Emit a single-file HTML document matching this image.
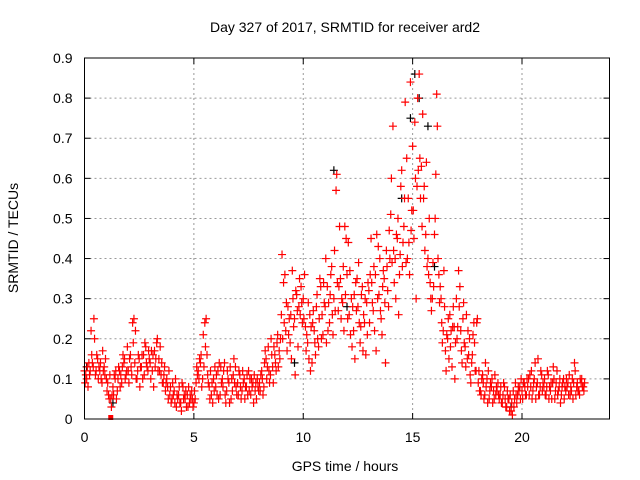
<!DOCTYPE html>
<html><head><meta charset="utf-8"><style>
body{margin:0;background:#fff;}
svg{display:block;font-family:"Liberation Sans",Arial,sans-serif;}
</style></head><body>
<svg id="chart" width="640" height="480" viewBox="0 0 640 480">
<rect x="0" y="0" width="640" height="480" fill="#fff"/>
<text x="345" y="32" font-size="14" text-anchor="middle" fill="#000">Day 327 of 2017, SRMTID for receiver ard2</text>
<text transform="translate(18,238) rotate(-90)" font-size="14" text-anchor="middle" fill="#000">SRMTID / TECUs</text>
<text x="345" y="471" font-size="14" text-anchor="middle" fill="#000">GPS time / hours</text>
<g id="grid"></g><g id="ticks"></g><g id="marks"></g>
<rect x="84.5" y="58" width="525" height="361" fill="none" stroke="#000" stroke-width="1"/>
</svg>
<script>
const xTicks=[0,5,10,15,20];
const yTicks=[0,0.1,0.2,0.3,0.4,0.5,0.6,0.7,0.8,0.9];
const yTickLabels=["0","0.1","0.2","0.3","0.4","0.5","0.6","0.7","0.8","0.9"];
const hours=[0,0.1,0.2,0.3,0.4,0.5,0.6,0.7,0.8,0.9,1,1.1,1.2,1.3,1.4,1.5,1.6,1.7,1.8,1.9,2,2.1,2.2,2.3,2.4,2.5,2.6,2.7,2.8,2.9,3,3.1,3.2,3.3,3.4,3.5,3.6,3.7,3.8,3.9,4,4.1,4.2,4.3,4.4,4.5,4.6,4.7,4.8,4.9,5,5.1,5.2,5.3,5.4,5.5,5.6,5.7,5.8,5.9,6,6.1,6.2,6.3,6.4,6.5,6.6,6.7,6.8,6.9,7,7.1,7.2,7.3,7.4,7.5,7.6,7.7,7.8,7.9,8,8.1,8.2,8.3,8.4,8.5,8.6,8.7,8.8,8.9,9,9.1,9.2,9.3,9.4,9.5,9.6,9.7,9.8,9.9,10,10.1,10.2,10.3,10.4,10.5,10.6,10.7,10.8,10.9,11,11.1,11.2,11.3,11.4,11.5,11.6,11.7,11.8,11.9,12,12.1,12.2,12.3,12.4,12.5,12.6,12.7,12.8,12.9,13,13.1,13.2,13.3,13.4,13.5,13.6,13.7,13.8,13.9,14,14.1,14.2,14.3,14.4,14.5,14.6,14.7,14.8,14.9,15,15.1,15.2,15.3,15.4,15.5,15.6,15.7,15.8,15.9,16,16.1,16.2,16.3,16.4,16.5,16.6,16.7,16.8,16.9,17,17.1,17.2,17.3,17.4,17.5,17.6,17.7,17.8,17.9,18,18.1,18.2,18.3,18.4,18.5,18.6,18.7,18.8,18.9,19,19.1,19.2,19.3,19.4,19.5,19.6,19.7,19.8,19.9,20,20.1,20.2,20.3,20.4,20.5,20.6,20.7,20.8,20.9,21,21.1,21.2,21.3,21.4,21.5,21.6,21.7,21.8,21.9,22,22.1,22.2,22.3,22.4,22.5,22.6,22.7,22.8];
const srmtidA=[.12,.10,.14,.22,.13,.11,.15,.12,.09,.13, .10,.06,.05,.08,.10,.07,.12,.09,.14,.11, .12,.16,.24,.14,.10,.15,.13,.16,.18,.12, .14,.12,.17,.19,.15,.11,.09,.07,.08,.06, .05,.07,.03,.06,.04,.08,.05,.06,.04,.07, .04,.09,.12,.14,.10,.24,.16,.08,.06,.10, .08,.12,.06,.10,.14,.07,.09,.05,.11,.13, .09,.11,.07,.10,.08,.12,.06,.09,.07,.10, .09,.12,.08,.15,.18,.11,.13,.16,.19,.17, .26,.34,.22,.28,.19,.37,.25,.31,.28,.33, .30,.23,.19,.26,.14,.22,.28,.18,.33,.21, .28,.33,.24,.38,.30,.57,.27,.35,.29,.48, .36,.26,.30,.22,.34,.28,.19,.33,.24,.29, .32,.45,.27,.36,.30,.40,.21,.35,.42,.28, .51,.73,.40,.45,.36,.62,.48,.39,.55,.84, .68,.74,.58,.86,.63,.55,.46,.40,.34,.30, .46,.81,.36,.30,.22,.17,.20,.26,.13,.23, .30,.37,.22,.25,.18,.15,.20,.14,.24,.12, .09,.07,.11,.06,.10,.05,.08,.07,.06,.09, .06,.04,.08,.03,.05,.02,.07,.09,.06,.08, .07,.09,.06,.10,.08,.07,.14,.09,.06,.11, .08,.06,.11,.07,.09,.05,.12,.08,.06,.10, .07,.09,.06,.10,.14,.08,.07,.09,.08];
const srmtidB=[.09,.13,.11,.16,.25,.12,.10,.14,.17,.11, .07,.05,.03,.06,.12,.10,.08,.13,.15,.12, .09,.13,.19,.22,.12,.08,.16,.11,.14,.17, .10,.16,.13,.20,.12,.14,.11,.09,.05,.08, .09,.04,.06,.08,.02,.05,.07,.03,.06,.05, .07,.13,.10,.16,.21,.18,.11,.05,.09,.07, .11,.05,.13,.08,.06,.12,.04,.10,.15,.08, .06,.08,.12,.05,.11,.07,.10,.04,.09,.08, .07,.10,.14,.10,.12,.20,.09,.14,.21,.15, .41,.24,.29,.21,.26,.30,.11,.27,.35,.29, .25,.17,.29,.12,.24,.19,.31,.25,.20,.34, .40,.22,.31,.26,.42,.61,.33,.25,.38,.31, .25,.37,.18,.31,.27,.39,.23,.17,.30,.21, .24,.34,.38,.17,.43,.27,.33,.29,.38,.47, .60,.42,.30,.50,.41,.38,.55,.65,.44,.47, .52,.60,.80,.65,.48,.58,.64,.36,.30,.39, .50,.73,.29,.24,.37,.12,.25,.18,.23,.10, .20,.28,.17,.29,.13,.22,.11,.16,.19,.24, .12,.06,.09,.14,.04,.07,.10,.05,.08,.06, .08,.06,.05,.07,.02,.04,.03,.06,.08,.05, .05,.08,.10,.06,.12,.09,.05,.15,.08,.07, .10,.08,.05,.09,.13,.07,.06,.10,.08,.05, .10,.06,.08,.05,.12,.09,.06,.10,.07];
const srmtidC=[.11,.08,.12,.14,.20,.16,.13,.10,.12,.15, .09,.11,.06,.11,.05,.13,.11,.16,.10,.18, .15,.11,.25,.10,.16,.13,.10,.19,.13,.15, .17,.08,.15,.12,.18,.09,.13,.10,.12,.04, .06,.10,.05,.04,.09,.06,.03,.08,.05,.03, .05,.11,.15,.08,.13,.25,.09,.12,.04,.13, .06,.14,.09,.12,.04,.10,.13,.07,.09,.06, .12,.05,.09,.08,.06,.10,.08,.11,.05,.07, .11,.06,.17,.13,.09,.16,.18,.12,.13,.20, .20,.36,.17,.25,.15,.23,.32,.18,.26,.24, .36,.21,.15,.23,.27,.16,.20,.35,.26,.29, .19,.29,.36,.21,.27,.34,.48,.30,.22,.45, .44,.21,.28,.15,.35,.24,.31,.26,.16,.34, .36,.29,.22,.46,.31,.25,.37,.14,.32,.40, .39,.34,.46,.26,.58,.44,.79,.40,.36,.52, .45,.30,.62,.55,.76,.42,.38,.50,.27,.33, .61,.40,.33,.19,.28,.21,.15,.22,.28,.19, .23,.33,.14,.19,.26,.16,.09,.21,.12,.25, .07,.10,.05,.08,.12,.09,.04,.11,.07,.05, .04,.09,.03,.05,.06,.01,.05,.04,.07,.10, .09,.06,.08,.11,.05,.10,.08,.06,.12,.09, .06,.12,.08,.05,.10,.09,.07,.04,.09,.08, .08,.11,.07,.09,.06,.07,.10,.08,.09];
const blackHours=[0.1,1.3,9.6,11.4,12.0,14.5,14.9,15.1,15.3,15.7,16.0,19.5];
const blackValues=[0.13,0.04,0.14,0.62,0.28,0.55,0.75,0.86,0.80,0.73,0.38,0.03];
const squareHours=[1.2];
const squareValues=[0.0];

const L=84.5,R=609.5,T=58,B=419,XMAX=24,YMAX=0.9;
const xs=v=>L+v/XMAX*(R-L);
const ys=v=>B-v/YMAX*(B-T);
const NS="http://www.w3.org/2000/svg";
const grid=document.getElementById('grid'),ticks=document.getElementById('ticks'),marks=document.getElementById('marks');
function mk(tag,attrs,parent){const e=document.createElementNS(NS,tag);for(const k in attrs)e.setAttribute(k,attrs[k]);parent.appendChild(e);return e;}
xTicks.forEach(t=>{
  const x=xs(t);
  if(t>0){const g=mk('line',{x1:x,x2:x,y1:T,y2:B,stroke:'#999','stroke-dasharray':'2,3','stroke-width':1},grid);
  
  }
  mk('line',{x1:x,x2:x,y1:B,y2:B-6,stroke:'#000'},ticks);
  mk('line',{x1:x,x2:x,y1:T,y2:T+6,stroke:'#000'},ticks);
  const lb=mk('text',{x:x,y:B+23,'font-size':14,'text-anchor':'middle',fill:'#000'},ticks);
  lb.textContent=t;
  
  
});
yTicks.forEach((t,i)=>{
  const y=ys(t);
  if(t>0&&t<0.9){const g=mk('line',{x1:L,x2:R,y1:y,y2:y,stroke:'#999','stroke-dasharray':'2,3','stroke-width':1},grid);
  
  }
  mk('line',{x1:L,x2:L+6,y1:y,y2:y,stroke:'#000'},ticks);
  mk('line',{x1:R,x2:R-6,y1:y,y2:y,stroke:'#000'},ticks);
  const lb=mk('text',{x:L-12,y:y+5,'font-size':14,'text-anchor':'end',fill:'#000'},ticks);
  lb.textContent=yTickLabels[i];
  
  
});
function cross(h,v,color,name){
  const x=xs(h),y=ys(v),a=4;
  const p=mk('path',{d:`M${x-a},${y}H${x+a}M${x},${y-a}V${y+a}`,stroke:color,'stroke-width':1.2,fill:'none'},marks);
  
  
}
blackHours.forEach((h,i)=>cross(h,blackValues[i],'#000','black-point'));
const seriesList=[srmtidA,srmtidB,srmtidC];
const seriesShift=[0,0.03,0.06];
seriesList.forEach((arr,s)=>{
  hours.forEach((h,i)=>{ if(arr[i]!==undefined) cross(h+seriesShift[s],arr[i],'#f00','srmtid-point'); });
});
squareHours.forEach((h,i)=>{
  const s=mk('rect',{x:xs(h)-2.5,y:ys(squareValues[i])-4,width:5,height:5,fill:'#f00'},marks);
  
  
});
</script>
</body></html>
